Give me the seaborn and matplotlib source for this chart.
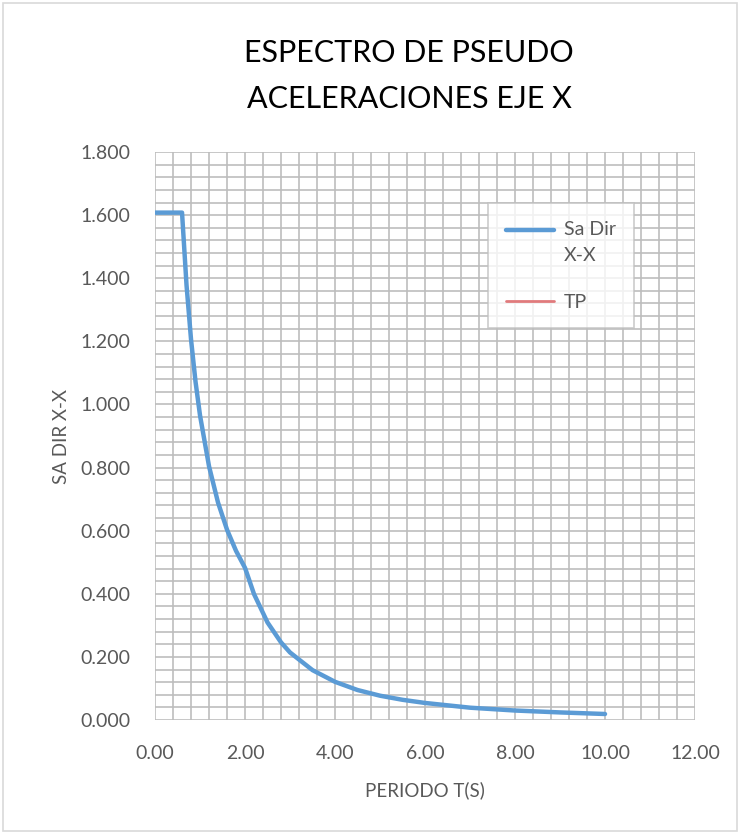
import numpy as np
import pandas as pd
import matplotlib
matplotlib.use('Agg')
import matplotlib.pyplot as plt
from matplotlib.ticker import MultipleLocator, FormatStrFormatter
from matplotlib.patches import Rectangle
from matplotlib.legend_handler import HandlerLine2D
import seaborn as sns

# periodo T (s) y aceleracion espectral Sa (direccion X-X)
periodo = [0.0, 0.1, 0.2, 0.3, 0.4, 0.5, 0.6, 0.7, 0.8, 0.9, 1.0, 1.2, 1.4,
           1.6, 1.8, 2.0, 2.2, 2.5, 2.8, 3.0, 3.5, 4.0, 4.5, 5.0, 5.5, 6.0,
           7.0, 8.0, 9.0, 10.0]
sa_dir_x = [1.608, 1.608, 1.608, 1.608, 1.608, 1.608, 1.608, 1.378, 1.206,
            1.072, 0.965, 0.804, 0.689, 0.603, 0.536, 0.482, 0.399, 0.309,
            0.246, 0.214, 0.158, 0.121, 0.095, 0.077, 0.064, 0.054, 0.039,
            0.030, 0.024, 0.019]
serie_sa = 'Sa Dir\nX-X'
serie_tp = 'TP'

df = pd.DataFrame({'T': periodo, 'Sa': sa_dir_x})


class HandlerFirstLine(HandlerLine2D):
    '''Put the legend line next to the first line of a wrapped label.'''
    def __init__(self, shift, **kw):
        super().__init__(**kw)
        self.shift = shift

    def create_artists(self, legend, orig_handle, xdescent, ydescent,
                       width, height, fontsize, trans):
        arts = super().create_artists(legend, orig_handle, xdescent, ydescent,
                                      width, height, fontsize, trans)
        for a in arts:
            a.set_ydata([y + self.shift for y in a.get_ydata()])
        return arts


sns.set_theme(style='white')
plt.rcParams['font.family'] = ['Lato', 'DejaVu Sans']

fig = plt.figure(figsize=(7.4, 8.34), dpi=100)
ax = fig.add_axes([0.2095, 0.1367, 0.7297, 0.681])

sns.lineplot(data=df, x='T', y='Sa', ax=ax, color='#5B9BD5', linewidth=3.2,
             label=serie_sa, zorder=3)
ax.plot([], [], color='#E07A7C', linewidth=2, label=serie_tp)

ax.set_xlim(0, 12)
ax.set_ylim(0, 1.8)
ax.xaxis.set_major_locator(MultipleLocator(2))
ax.xaxis.set_minor_locator(MultipleLocator(0.4))
ax.yaxis.set_major_locator(MultipleLocator(0.2))
ax.yaxis.set_minor_locator(MultipleLocator(0.04))
ax.xaxis.set_major_formatter(FormatStrFormatter('%.2f'))
ax.yaxis.set_major_formatter(FormatStrFormatter('%.3f'))
ax.grid(which='both', color='#BDBDBD', linewidth=1.2)
ax.set_axisbelow(True)
for s in ax.spines.values():
    s.set_visible(False)
ax.tick_params(which='both', length=0, labelsize=14, colors='#595959')
ax.tick_params(axis='y', pad=18)
ax.tick_params(axis='x', pad=18)

ax.set_xlabel('PERIODO T(S)', fontsize=13.5, color='#595959', labelpad=14)
ax.set_ylabel('SA DIR X-X', fontsize=13.5, color='#595959', labelpad=7)

fig.text(0.553, 0.909, 'ESPECTRO DE PSEUDO\nACELERACIONES EJE X', ha='center',
         va='center', fontsize=22, color='black', linespacing=1.8)

handles, labels = ax.get_legend_handles_labels()
leg = ax.legend(handles, labels, loc='upper left', bbox_to_anchor=(0.617, 0.91),
                frameon=True, fancybox=False, fontsize=14, handlelength=2.5,
                labelspacing=1.5, borderpad=0.9, borderaxespad=0,
                handletextpad=0.5,
                handler_map={handles[0]: HandlerFirstLine(9)})
leg.get_frame().set_edgecolor('#BFBFBF')
leg.get_frame().set_linewidth(1.2)
for t in leg.get_texts():
    t.set_color('#595959')
    t.set_linespacing(1.7)

fig.patches.append(Rectangle((0.004, 0.003), 0.992, 0.994, transform=fig.transFigure,
                             fill=False, edgecolor='#D9D9D9', linewidth=1.2))

fig.savefig('out.png', dpi=100)
